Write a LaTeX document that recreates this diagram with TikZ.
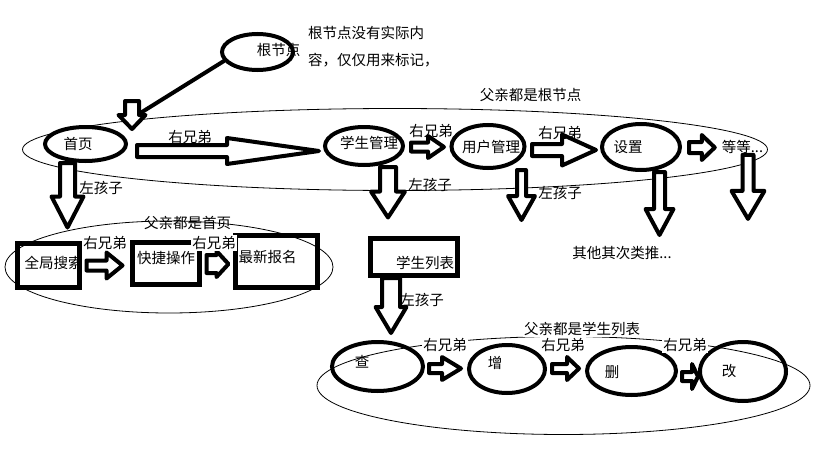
\documentclass[tikz,border=0pt]{standalone}
\usepackage{fontspec}
\setmainfont{Noto Sans CJK SC}
\usepackage{tikz}
\usetikzlibrary{shapes.geometric, calc}
\tikzset{
  oval/.style={ellipse, draw=black, line width=4pt, inner sep=0pt},
  pagebox/.style={rectangle, draw=black, line width=5pt, inner sep=0pt},
  family/.style={ellipse, draw=black, line width=0.8pt, inner sep=0pt},
  hollow/.style={draw=black, fill=white, line width=4pt, line join=round},
  link/.style={draw=black, line width=4pt, line cap=round},
  tag/.style={inner sep=1pt},
  mask/.style={inner sep=1pt, fill=white}
}
% hollow arrow to the right: from, to, half shaft, half head, head length
\newcommand{\siblingarrow}[5]{%
  \draw[hollow] let \p1=(#1), \p2=(#2) in
    (\x1,\y1+#3) -- (\x2-#5,\y1+#3) -- (\x2-#5,\y1+#4) -- (\x2,\y1)
    -- (\x2-#5,\y1-#4) -- (\x2-#5,\y1-#3) -- (\x1,\y1-#3) -- cycle;}
% hollow arrow downwards: from, to, half shaft, half head, head length
\newcommand{\childarrow}[5]{%
  \draw[hollow] let \p1=(#1), \p2=(#2) in
    (\x1-#3,\y1) -- (\x1-#3,\y2+#5) -- (\x1-#4,\y2+#5) -- (\x1,\y2)
    -- (\x1+#4,\y2+#5) -- (\x1+#3,\y2+#5) -- (\x1+#3,\y1) -- cycle;}

\begin{document}
\begin{tikzpicture}[x=1pt, y=-1pt, font=\fontsize{14.5}{17}\selectfont]
\useasboundingbox (0,0) rectangle (819,460);

% Sibling groups
\node[family, minimum width=745, minimum height=82] (grproot) at (395,149.5) {};
\node[family, minimum width=328, minimum height=92] (grphome) at (169,267) {};
\node[family, minimum width=493, minimum height=98] (grplist) at (563.5,385.5) {};
\node[tag] at (530.5,95) {父亲都是根节点};
\node[tag] at (187.5,223) {父亲都是首页};
\node[mask] at (582,329) {父亲都是学生列表};

% Root
\node[oval, minimum width=71, minimum height=36, label={[xshift=21pt,yshift=2pt]center:根节点}] (root) at (257.5,52) {};
\node[anchor=west, align=left, inner sep=0pt, font=\fontsize{14.5}{27}\selectfont] (note) at (308,46.5) {根节点没有实际内\\容，仅仅用来标记，};

% First level
\node[oval, minimum width=81, minimum height=34, label={[xshift=-7.5pt]center:首页}] (home) at (85.5,144) {};
\node[oval, minimum width=78, minimum height=38, label={[xshift=5pt,yshift=3pt]center:学生管理}] (stu) at (364,146) {};
\node[oval, minimum width=73, minimum height=43, label={[xshift=3pt]center:用户管理}] (user) at (488,146.5) {};
\node[oval, minimum width=78, minimum height=46, label={[xshift=-13pt]center:设置}] (setting) at (641,147) {};
\node[tag] (etc) at (742.5,147) {等等...};

% Children of home
\node[pagebox, minimum width=62, minimum height=44, label={[xshift=5pt,yshift=2.5pt]center:全局搜索}] (search) at (48.5,265.5) {};
\node[pagebox, minimum width=67, minimum height=42, label={[yshift=5.5pt]center:快捷操作}] (quick) at (166,263.5) {};
\node[pagebox, minimum width=82, minimum height=52, label={[xshift=-9pt,yshift=4.5pt]center:最新报名}] (signup) at (276.5,261.5) {};

% Student list and its children
\node[pagebox, minimum width=87, minimum height=37, label={[xshift=11pt,yshift=-6pt]center:学生列表}] (stulist) at (414,257) {};
\node[oval, minimum width=91, minimum height=49, label={[xshift=-15.5pt,yshift=4.5pt]center:查}] (query) at (377.5,366.5) {};
\node[oval, minimum width=76, minimum height=48, label={[xshift=-12pt,yshift=6pt]center:增}] (add) at (507,369) {};
\node[oval, minimum width=89, minimum height=48, label={[xshift=-19.5pt,yshift=-1pt]center:删}] (del) at (631.5,371) {};
\node[oval, minimum width=86, minimum height=59, label={[xshift=-14pt]center:改}] (edit) at (743,371.5) {};
\node[tag] (more) at (622,253) {其他其次类推...};

% Root pointer
\coordinate (drop) at (132,101);
\coordinate (bend) at (134,117);
\draw[link] (root.195) -- (bend);
\childarrow{drop}{[yshift=-4pt]home.north}{7pt}{13.5pt}{14pt}

% Right sibling arrows
\siblingarrow{[xshift=9pt,yshift=-7pt]home.east}{[xshift=-4pt]stu.west}{6pt}{13pt}{92pt}
\siblingarrow{[xshift=6pt,yshift=-1pt]stu.east}{[xshift=-5.5pt]user.west}{4.5pt}{11pt}{16pt}
\siblingarrow{[xshift=5.5pt,yshift=-3.5pt]user.east}{[xshift=-4pt]setting.west}{6pt}{15.5pt}{34pt}
\siblingarrow{[xshift=7pt,yshift=-0.5pt]setting.east}{[xshift=-6pt]etc.west}{5.5pt}{12.5pt}{13pt}
\siblingarrow{[xshift=4.5pt]search.east}{[xshift=-7.5pt]quick.west}{5pt}{13pt}{16pt}
\siblingarrow{[xshift=4.5pt,yshift=-0.5pt]quick.east}{[xshift=-4.5pt]signup.west}{9pt}{13pt}{12pt}
\siblingarrow{[xshift=4pt,yshift=-2pt]query.east}{[xshift=-6pt]add.west}{4.5pt}{11.5pt}{19pt}
\siblingarrow{[xshift=5pt,yshift=0.5pt]add.east}{[xshift=-6pt]del.west}{4.5pt}{11.5pt}{12pt}
\siblingarrow{[xshift=4pt,yshift=-5.5pt]del.east}{edit.west}{4.5pt}{12.5pt}{6pt}

% Left child arrows
\childarrow{[xshift=-18pt]home.south}{[yshift=13.5pt]search.north}{7.5pt}{16pt}{31pt}
\childarrow{[xshift=24pt]stu.south}{[yshift=18.5pt]stulist.north}{8pt}{17pt}{26pt}
\childarrow{[xshift=-23pt]stulist.south}{[yshift=7pt]query.north}{9pt}{15.5pt}{26pt}
\childarrow{[xshift=33.5pt]user.south}{[yshift=-50pt]user.south}{4.5pt}{13.5pt}{24pt}
\childarrow{[xshift=18.5pt]setting.south}{[yshift=-63pt]setting.south}{5.5pt}{14pt}{26pt}
\childarrow{[xshift=5.5pt]etc.south}{[yshift=-64pt]etc.south}{5.5pt}{16.5pt}{28pt}

% Labels
\node[tag] at (190,137) {右兄弟};
\node[tag] at (431,131) {右兄弟};
\node[tag] at (560,133) {右兄弟};
\node[tag] at (105,243) {右兄弟};
\node[mask] at (214,243) {右兄弟};
\node[mask] at (445,345) {右兄弟};
\node[mask] at (563,345) {右兄弟};
\node[mask] at (685,345) {右兄弟};
\node[tag] at (101,188) {左孩子};
\node[tag] at (430,185) {左孩子};
\node[tag] at (560,193) {左孩子};
\node[tag] at (422,300) {左孩子};
\end{tikzpicture}
\end{document}
